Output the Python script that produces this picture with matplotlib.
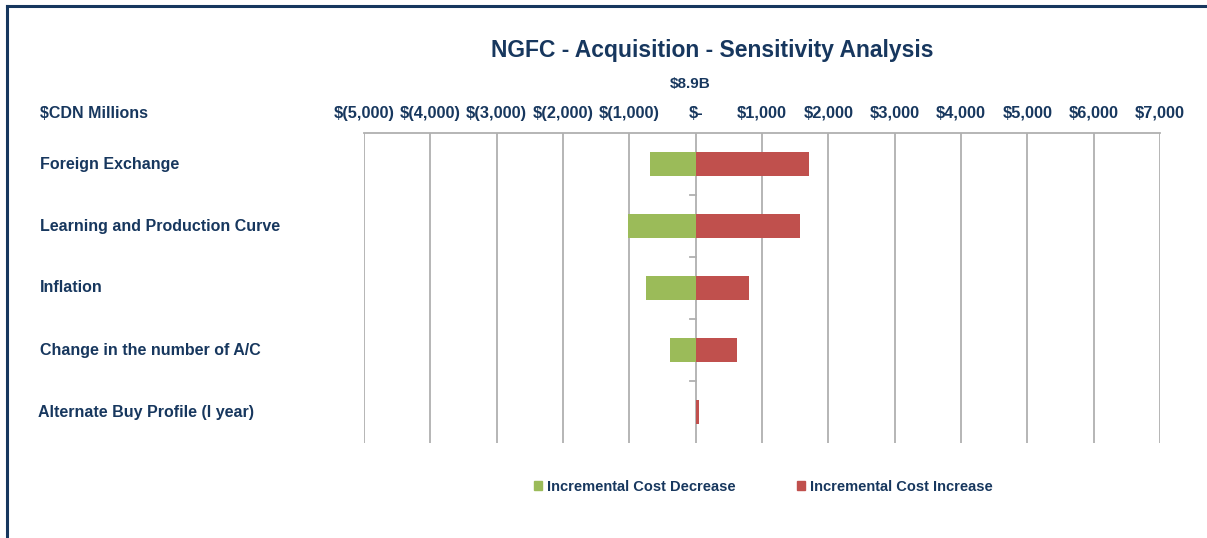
import matplotlib.pyplot as plt
from matplotlib.lines import Line2D
from matplotlib.patches import Patch

categories = ["Foreign Exchange", "Learning and Production Curve", "Inflation",
              "Change in the number of A/C", "Alternate Buy Profile (l year)"]
decrease = [-690, -1015, -745, -385, 0]
increase = [1715, 1575, 800, 630, 50]
tick_values = [-5000, -4000, -3000, -2000, -1000, 0, 1000, 2000, 3000, 4000, 5000, 6000, 7000]
tick_labels = ["$(5,000)", "$(4,000)", "$(3,000)", "$(2,000)", "$(1,000)", "$-",
               "$1,000", "$2,000", "$3,000", "$4,000", "$5,000", "$6,000", "$7,000"]

navy = "#17375E"
green = "#9BBB59"
red = "#C0504D"
grid = "#B0B0B0"

plt.rcParams['font.family'] = ['Liberation Sans', 'DejaVu Sans']
plt.rcParams['font.weight'] = 'bold'

fig = plt.figure(figsize=(12.07, 5.38), dpi=100)
ax = fig.add_axes([364 / 1207, 1 - 443 / 538, 796 / 1207, 310 / 538])

y = list(range(len(categories)))
ax.barh(y, decrease, height=0.4, color=green, zorder=3)
ax.barh(y, increase, height=0.4, color=red, zorder=3)

ax.set_xlim(-5000, 7000)
ax.set_ylim(len(categories) - 0.5, -0.5)
ax.set_xticks(tick_values)
ax.set_xticklabels(tick_labels)
ax.xaxis.tick_top()
ax.tick_params(axis='x', length=0, pad=11, labelsize=11.8, labelcolor=navy)
for lbl in ax.get_xticklabels():
    lbl.set_verticalalignment('baseline')
ax.set_yticks([])
for v in tick_values:
    ax.axvline(v, color=grid, lw=1.3, zorder=1)
for s in ["left", "right", "bottom"]:
    ax.spines[s].set_visible(False)
ax.spines["top"].set_color(grid)
ax.spines["top"].set_linewidth(1.3)

# small ticks on the zero axis between categories
for b in range(1, len(categories)):
    ax.plot([-80, 0], [b - 0.5, b - 0.5], color=grid, lw=1.3, zorder=2, clip_on=False)

# category labels
for i, c in enumerate(categories):
    fig.text(40 / 1207 if i < 4 else 38 / 1207, ax.transData.transform((0, i))[1] / fig.dpi / 5.38,
             c, ha='left', va='center', fontsize=11.5, color=navy, fontweight='bold')

fig.text(40 / 1207, 1 - 113 / 538, "$CDN Millions", ha='left', va='center',
         fontsize=11.5, color=navy, fontweight='bold')
fig.text(712 / 1207, 1 - 51 / 538, "NGFC - Acquisition - Sensitivity Analysis",
         ha='center', va='center', fontsize=16.5, color=navy, fontweight='bold')
fig.text(690 / 1207, 1 - 84 / 538, "$8.9B", ha='center', va='center',
         fontsize=11, color=navy, fontweight='bold')

handles = [Patch(color=green, label="Incremental Cost Decrease"),
           Patch(color=red, label="Incremental Cost Increase")]
fig.legend(handles=handles, loc='center', bbox_to_anchor=(763 / 1207, 1 - 487 / 538),
           ncol=2, frameon=False, handlelength=0.55, handleheight=0.55,
           handletextpad=0.35, columnspacing=4.2, labelcolor=navy,
           prop={'size': 10.5, 'weight': 'bold'})

# frame lines (top and left)
fig.add_artist(Line2D([7 / 1207, 7 / 1207], [0, 1 - 6 / 538], color=navy, lw=2.2))
fig.add_artist(Line2D([7 / 1207, 1], [1 - 6 / 538, 1 - 6 / 538], color=navy, lw=2.2))

fig.savefig("out.png", dpi=100)
